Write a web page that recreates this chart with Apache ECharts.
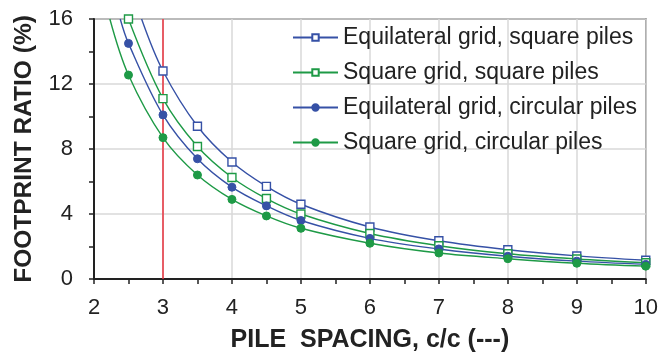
<!DOCTYPE html>
<html>
<head>
<meta charset="utf-8">
<script src="https://cdn.jsdelivr.net/npm/echarts@6/dist/echarts.min.js"></script>
<style>
  html, body { margin: 0; padding: 0; background: #fff; }
  #chart { width: 661px; height: 360px; }
</style>
</head>
<body>
<div id="chart"></div>
<script>
// Pile spacing (c/c) at which each curve is sampled
const spacing = [2.5, 3, 3.5, 4, 4.5, 5, 6, 7, 8, 9, 10];

// Footprint ratio (%) per arrangement; null = above the 16 % axis limit
const eqGridSquarePiles  = [null, 12.8, 9.4, 7.2, 5.7, 4.6, 3.2, 2.35, 1.8, 1.42, 1.15];
const sqGridSquarePiles  = [16.0, 11.1, 8.15, 6.25, 4.95, 4.0, 2.8, 2.05, 1.55, 1.23, 1.0];
const eqGridCircPiles    = [14.5, 10.1, 7.4, 5.65, 4.5, 3.6, 2.5, 1.85, 1.4, 1.1, 0.9];
const sqGridCircPiles    = [12.55, 8.7, 6.4, 4.9, 3.88, 3.12, 2.2, 1.6, 1.25, 0.97, 0.79];

// Spacing at which each curve leaves the top of the plot (ratio = 16 %)
const topExit = [2.69, 2.5, 2.38, 2.23];

const seriesNames = [
  'Equilateral grid, square piles',
  'Square grid, square piles',
  'Equilateral grid, circular piles',
  'Square grid, circular piles'
];

const designSpacing = 3;

const xTicks = [2, 3, 4, 5, 6, 7, 8, 9, 10];
const yTicks = [0, 4, 8, 12, 16];

const BLUE = '#3651a6';
const GREEN = '#1e9a46';
const FONT = 'Liberation Sans, Arial, sans-serif';

function buildPoints(values, exitX) {
  const pts = [];
  const first = spacing.findIndex((x, i) => values[i] !== null);
  if (Math.abs(spacing[first] - exitX) > 1e-6) {
    pts.push({ value: [exitX, 16], symbol: 'none' });
  }
  spacing.forEach((x, i) => {
    if (values[i] !== null) pts.push({ value: [x, values[i]] });
  });
  return pts;
}

const seriesDefs = [
  { values: eqGridSquarePiles, color: BLUE,  hollow: true },
  { values: sqGridSquarePiles, color: GREEN, hollow: true },
  { values: eqGridCircPiles,   color: BLUE,  hollow: false },
  { values: sqGridCircPiles,   color: GREEN, hollow: false }
];

const series = seriesDefs.map((d, k) => ({
  name: seriesNames[k],
  type: 'line',
  smooth: 0.35,
  clip: true,
  symbol: d.hollow ? 'rect' : 'circle',
  symbolSize: 8,
  showAllSymbol: true,
  lineStyle: { color: d.color, width: 1.4 },
  itemStyle: d.hollow
    ? { color: '#fff', borderColor: d.color, borderWidth: 1.4 }
    : { color: d.color, borderColor: d.color, borderWidth: 1 },
  data: buildPoints(d.values, topExit[k]),
  z: 3
}));

// design spacing marker
series[0].markLine = {
  silent: true,
  symbol: ['none', 'none'],
  label: { show: false },
  lineStyle: { color: '#e8303c', width: 1.5, type: 'solid' },
  data: [{ xAxis: designSpacing }],
  z: 2
};

const chart = echarts.init(document.getElementById('chart'), null, { renderer: 'canvas' });

chart.setOption({
  animation: false,
  backgroundColor: '#fff',
  textStyle: { fontFamily: FONT },
  grid: {
    left: 94, right: 14, top: 19, bottom: 81,
    show: true, borderColor: '#333', borderWidth: 1.5, backgroundColor: 'transparent'
  },
  legend: {
    orient: 'vertical',
    left: 287,
    top: 21,
    itemWidth: 45,
    itemHeight: 8,
    itemGap: 12,
    textStyle: { fontSize: 23, color: '#222', fontFamily: FONT },
    data: seriesNames
  },
  xAxis: {
    type: 'value',
    min: 2, max: 10, interval: 1,
    name: 'PILE  SPACING, c/c (---)',
    nameLocation: 'middle',
    nameGap: 49,
    nameTextStyle: { fontSize: 25, fontWeight: 'bold', color: '#222', fontFamily: FONT },
    axisLine: { show: true, onZero: false, lineStyle: { color: '#222', width: 2 } },
    axisTick: { show: true, length: 5, lineStyle: { color: '#222', width: 1.5 } },
    minorTick: { show: true, splitNumber: 2, length: 5, lineStyle: { color: '#222', width: 1.5 } },
    axisLabel: {
      fontSize: 22, color: '#222', margin: 18,
      formatter: v => xTicks.includes(v) ? String(v) : ''
    },
    splitLine: { show: true, lineStyle: { color: '#d8d8d8', width: 1.5 } }
  },
  yAxis: {
    type: 'value',
    min: 0, max: 16, interval: 4,
    name: 'FOOTPRINT RATIO (%)',
    nameLocation: 'middle',
    nameGap: 57,
    nameTextStyle: { fontSize: 24.5, fontWeight: 'bold', color: '#222', fontFamily: FONT },
    axisLine: { show: true, onZero: false, lineStyle: { color: '#222', width: 2 } },
    axisTick: { show: true, length: 5, lineStyle: { color: '#222', width: 1.5 } },
    minorTick: { show: true, splitNumber: 2, length: 5, lineStyle: { color: '#222', width: 1.5 } },
    axisLabel: {
      fontSize: 22, color: '#222', margin: 21,
      formatter: v => yTicks.includes(v) ? String(v) : ''
    },
    splitLine: { show: true, lineStyle: { color: '#d8d8d8', width: 1.5 } }
  },
  series: series
});
</script>
</body>
</html>
